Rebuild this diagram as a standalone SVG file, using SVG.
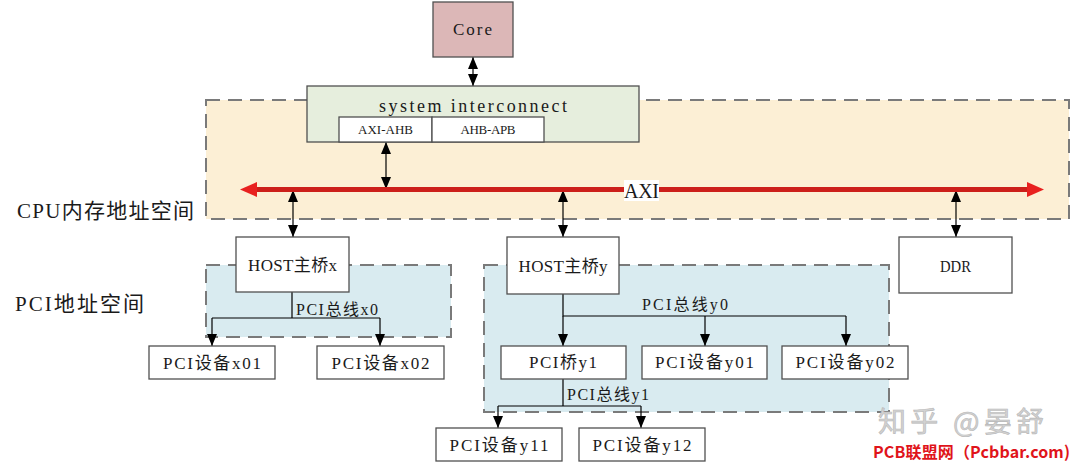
<svg xmlns="http://www.w3.org/2000/svg" width="1074" height="465" viewBox="0 0 1074 465">
<defs>
<marker id="ah" viewBox="0 0 12 10" refX="12" refY="5" markerWidth="12" markerHeight="10" markerUnits="userSpaceOnUse" orient="auto-start-reverse"><path d="M0,0 L12,5 L0,10 z" fill="#000"/></marker>
<marker id="rh" viewBox="0 0 17 15" refX="0" refY="7.5" markerWidth="17" markerHeight="15" markerUnits="userSpaceOnUse" orient="auto-start-reverse"><path d="M0,0 L17,7.5 L0,15 z" fill="#e8211f"/></marker>
</defs>
<style>
.region{stroke:#7a7a7a;stroke-width:2;stroke-dasharray:14 8}
.box{fill:#fff;stroke:#505050;stroke-width:1.3}
.t{font-family:"Liberation Serif","Noto Sans CJK SC",serif;fill:#1a1a1a}
.c{text-anchor:middle}
.ln{stroke:#000;stroke-width:1.2;fill:none}
</style>
<rect width="1074" height="465" fill="#fff"/>
<g id="cpu-space">
<rect class="region" x="206" y="100" width="863" height="119" fill="#fcefd5"/>
<text class="t" x="17" y="218" font-size="21" textLength="177">CPU内存地址空间</text>
</g>
<g id="pci-space-x"><rect class="region" x="206" y="265" width="245" height="72" fill="#d9ebf0"/></g>
<g id="pci-space-y"><rect class="region" x="484" y="265" width="405" height="147" fill="#d9ebf0"/></g>
<g id="pci-space-label"><text class="t" x="15" y="311" font-size="21" textLength="129">PCI地址空间</text></g>
<g id="connectors">
<line class="ln" x1="473" y1="57" x2="473" y2="86" marker-start="url(#ah)" marker-end="url(#ah)"/>
<line class="ln" x1="386" y1="142" x2="386" y2="189" marker-start="url(#ah)" marker-end="url(#ah)"/>
<line class="ln" x1="293" y1="190" x2="293" y2="237" marker-start="url(#ah)" marker-end="url(#ah)"/>
<line class="ln" x1="563" y1="190" x2="563" y2="237" marker-start="url(#ah)" marker-end="url(#ah)"/>
<line class="ln" x1="956" y1="190" x2="956" y2="237" marker-start="url(#ah)" marker-end="url(#ah)"/>
<path class="ln" d="M292,292 V318 M212,318 H380"/>
<line class="ln" x1="212" y1="318" x2="212" y2="346" marker-end="url(#ah)"/>
<line class="ln" x1="380" y1="318" x2="380" y2="346" marker-end="url(#ah)"/>
<path class="ln" d="M563,294 V316 H846"/>
<line class="ln" x1="563" y1="316" x2="563" y2="346" marker-end="url(#ah)"/>
<line class="ln" x1="705" y1="316" x2="705" y2="346" marker-end="url(#ah)"/>
<line class="ln" x1="846" y1="316" x2="846" y2="346" marker-end="url(#ah)"/>
<path class="ln" d="M563,379 V406 M498,406 H641"/>
<line class="ln" x1="498" y1="406" x2="498" y2="428" marker-end="url(#ah)"/>
<line class="ln" x1="641" y1="406" x2="641" y2="428" marker-end="url(#ah)"/>
</g>
<g id="axi-bus">
<line x1="257" y1="189.5" x2="1027" y2="189.5" stroke="#cc1f1a" stroke-width="5" marker-start="url(#rh)" marker-end="url(#rh)"/>
<rect x="624" y="180" width="35" height="21" fill="#fff"/>
<text class="t c" x="641.5" y="198" font-size="20" textLength="35">AXI</text>
</g>
<g id="core">
<rect x="433" y="2" width="80" height="55" fill="#dcb7b7" stroke="#505050" stroke-width="1.3"/>
<text class="t c" x="472.5" y="35" font-size="17" textLength="39">Core</text>
</g>
<g id="system-interconnect">
<rect x="307" y="86" width="332" height="56" fill="#e6eedd" stroke="#505050" stroke-width="1.3"/>
<text class="t c" x="473" y="112" font-size="18" textLength="188">system interconnect</text>
</g>
<g id="axi-ahb">
<rect class="box" x="339" y="117" width="93" height="25"/>
<text class="t c" x="385.5" y="134" font-size="13" textLength="55">AXI-AHB</text>
</g>
<g id="ahb-apb">
<rect class="box" x="432" y="117" width="112" height="25"/>
<text class="t c" x="488" y="134" font-size="13" textLength="55">AHB-APB</text>
</g>
<g id="host-x">
<rect class="box" x="236" y="237" width="113" height="55"/>
<text class="t c" x="292.5" y="271" font-size="17" textLength="89">HOST主桥x</text>
</g>
<g id="host-y">
<rect class="box" x="507" y="237" width="112" height="57"/>
<text class="t c" x="563" y="272" font-size="17" textLength="89">HOST主桥y</text>
</g>
<g id="ddr">
<rect class="box" x="899" y="237" width="113" height="56"/>
<text class="t c" x="955.5" y="272" font-size="17" textLength="31" lengthAdjust="spacingAndGlyphs">DDR</text>
</g>
<g id="bus-labels">
<text class="t" x="296" y="315" font-size="16" textLength="82">PCI总线x0</text>
<text class="t" x="642" y="310" font-size="16" textLength="86">PCI总线y0</text>
<text class="t" x="567" y="400" font-size="16" textLength="82">PCI总线y1</text>
</g>
<g id="dev-x01">
<rect class="box" x="149" y="346" width="126" height="33"/>
<text class="t c" x="212" y="369" font-size="17" textLength="98">PCI设备x01</text>
</g>
<g id="dev-x02">
<rect class="box" x="317" y="346" width="127" height="33"/>
<text class="t c" x="380.5" y="369" font-size="17" textLength="98">PCI设备x02</text>
</g>
<g id="bridge-y1">
<rect class="box" x="501" y="346" width="125" height="33"/>
<text class="t c" x="563" y="368" font-size="17" textLength="68">PCI桥y1</text>
</g>
<g id="dev-y01">
<rect class="box" x="642" y="346" width="125" height="33"/>
<text class="t c" x="704.5" y="368" font-size="17" textLength="99">PCI设备y01</text>
</g>
<g id="dev-y02">
<rect class="box" x="782" y="346" width="126" height="33"/>
<text class="t c" x="845" y="368" font-size="17" textLength="99">PCI设备y02</text>
</g>
<g id="dev-y11">
<rect class="box" x="436" y="428" width="126" height="33"/>
<text class="t c" x="499" y="451" font-size="17" textLength="99">PCI设备y11</text>
</g>
<g id="dev-y12">
<rect class="box" x="579" y="428" width="126" height="33"/>
<text class="t c" x="642" y="451" font-size="17" textLength="99">PCI设备y12</text>
</g>
<g id="watermark">
<text x="878" y="432" font-family="'Noto Sans CJK SC',sans-serif" font-size="28" fill="#d2d2d2" stroke="#b8b8b8" stroke-width="0.6" textLength="166">知乎 @晏舒</text>
<text x="873" y="458" font-family="'Noto Sans CJK SC',sans-serif" font-size="16" font-weight="bold" fill="#e0141a" textLength="197">PCB联盟网（Pcbbar.com)</text>
</g>
</svg>
